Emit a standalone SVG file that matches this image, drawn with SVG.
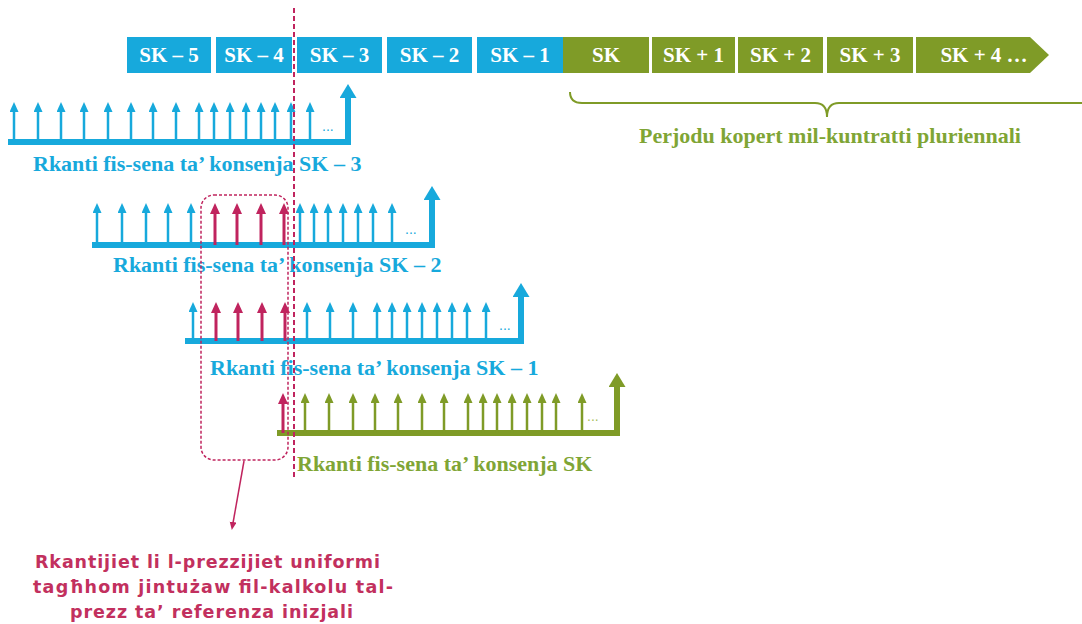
<svg xmlns="http://www.w3.org/2000/svg" width="1082" height="624" viewBox="0 0 1082 624">
<style>
.bx{fill:#17a9dc}
.gx{fill:#7f9b27}
.bt{font-family:"Liberation Serif",serif;font-weight:bold;font-size:21px;fill:#fff;text-anchor:middle}
.lb{font-family:"Liberation Serif",serif;font-weight:bold;font-size:22px;fill:#17a9dc}
.lg{font-family:"Liberation Serif",serif;font-weight:bold;font-size:22px;fill:#7fa535}
.sb{stroke:#17a9dc;stroke-width:2.5}
.sr{stroke:#c0245e;stroke-width:3}
.sg{stroke:#7f9b27;stroke-width:2.5}
.base{fill:none;stroke-width:6;stroke-linejoin:miter}
.dots{font-family:"Liberation Sans",sans-serif;font-size:14px}
.note{font-family:"DejaVu Sans",sans-serif;font-weight:bold;font-size:17.5px;fill:#c2305e}
</style>
<defs>
<marker id="hb" markerUnits="userSpaceOnUse" markerWidth="11" markerHeight="10" refX="1" refY="4.5" orient="auto"><path d="M0,0 L10,4.5 L0,9 z" fill="#17a9dc"/></marker>
<marker id="hr" markerUnits="userSpaceOnUse" markerWidth="12" markerHeight="11" refX="1" refY="5" orient="auto"><path d="M0,0 L11,5 L0,10 z" fill="#c0245e"/></marker>
<marker id="hg" markerUnits="userSpaceOnUse" markerWidth="11" markerHeight="10" refX="1" refY="4.5" orient="auto"><path d="M0,0 L10,4.5 L0,9 z" fill="#7f9b27"/></marker>
<marker id="Hb" markerUnits="userSpaceOnUse" markerWidth="16" markerHeight="18" refX="1" refY="8.5" orient="auto"><path d="M0,0 L14,8.5 L0,17 z" fill="#17a9dc"/></marker>
<marker id="Hg" markerUnits="userSpaceOnUse" markerWidth="16" markerHeight="18" refX="1" refY="8.5" orient="auto"><path d="M0,0 L14,8.5 L0,17 z" fill="#7f9b27"/></marker>
<marker id="hp" markerUnits="userSpaceOnUse" markerWidth="9" markerHeight="8" refX="1" refY="3.5" orient="auto"><path d="M0,0 L8,3.5 L0,7 z" fill="#c0245e"/></marker>
</defs>
<rect width="1082" height="624" fill="#fff"/>

<g id="timeline">
<g id="sk-5"><rect class="bx" x="127" y="37" width="84" height="36"/><text class="bt" x="169" y="62">SK – 5</text></g>
<g id="sk-4"><rect class="bx" x="216" y="37" width="76" height="36"/><text class="bt" x="254" y="62">SK – 4</text></g>
<g id="sk-3"><rect class="bx" x="297" y="37" width="85" height="36"/><text class="bt" x="339.5" y="62">SK – 3</text></g>
<g id="sk-2"><rect class="bx" x="387" y="37" width="85" height="36"/><text class="bt" x="429.5" y="62">SK – 2</text></g>
<g id="sk-1"><rect class="bx" x="477" y="37" width="86" height="36"/><text class="bt" x="520" y="62">SK – 1</text></g>
<g id="sk"><rect class="gx" x="563" y="37" width="86" height="36"/><text class="bt" x="606" y="62">SK</text></g>
<g id="sk+1"><rect class="gx" x="652" y="37" width="83" height="36"/><text class="bt" x="693.5" y="62">SK + 1</text></g>
<g id="sk+2"><rect class="gx" x="738" y="37" width="85" height="36"/><text class="bt" x="780.5" y="62">SK + 2</text></g>
<g id="sk+3"><rect class="gx" x="827" y="37" width="86" height="36"/><text class="bt" x="870" y="62">SK + 3</text></g>
<g id="sk+4"><path class="gx" d="M916,37 H1030 L1049,55 L1030,73 H916 Z"/><text class="bt" x="984" y="62">SK + 4 …</text></g>
</g>

<g id="brace">
<path d="M570,92 Q570,103 582,103 H815 Q827,103 827,117 Q827,103 839,103 H1082" fill="none" stroke="#7f9b27" stroke-width="2"/>
<text class="lg" x="830" y="143" text-anchor="middle">Perjodu kopert mil-kuntratti pluriennali</text>
</g>

<g id="row-sk-3">
<path class="base" stroke="#17a9dc" d="M8,142 H348 V97" marker-end="url(#Hb)"/>
<g class="sb" marker-end="url(#hb)">
<line x1="14" y1="142" x2="14" y2="111"/><line x1="38" y1="142" x2="38" y2="111"/><line x1="61" y1="142" x2="61" y2="111"/><line x1="84" y1="142" x2="84" y2="111"/><line x1="108" y1="142" x2="108" y2="111"/><line x1="131" y1="142" x2="131" y2="111"/><line x1="153" y1="142" x2="153" y2="111"/><line x1="176" y1="142" x2="176" y2="111"/><line x1="199" y1="142" x2="199" y2="111"/><line x1="214" y1="142" x2="214" y2="111"/><line x1="230" y1="142" x2="230" y2="111"/><line x1="246" y1="142" x2="246" y2="111"/><line x1="261" y1="142" x2="261" y2="111"/><line x1="275" y1="142" x2="275" y2="111"/><line x1="291" y1="142" x2="291" y2="111"/><line x1="310" y1="142" x2="310" y2="111"/>
</g>
<text class="dots" x="322" y="131" fill="#17a9dc">...</text>
<text class="lb" x="33" y="171">Rkanti fis-sena ta’ konsenja SK – 3</text>
</g>

<g id="row-sk-2">
<path class="base" stroke="#17a9dc" d="M92,245 H432 V199" marker-end="url(#Hb)"/>
<g class="sb" marker-end="url(#hb)">
<line x1="97" y1="245" x2="97" y2="212"/><line x1="122" y1="245" x2="122" y2="212"/><line x1="146" y1="245" x2="146" y2="212"/><line x1="168" y1="245" x2="168" y2="212"/><line x1="191" y1="245" x2="191" y2="212"/><line x1="300" y1="245" x2="300" y2="212"/><line x1="314" y1="245" x2="314" y2="212"/><line x1="328" y1="245" x2="328" y2="212"/><line x1="343" y1="245" x2="343" y2="212"/><line x1="358" y1="245" x2="358" y2="212"/><line x1="373" y1="245" x2="373" y2="212"/><line x1="392" y1="245" x2="392" y2="212"/>
</g>
<g class="sr" marker-end="url(#hr)">
<line x1="215" y1="245" x2="215" y2="213"/><line x1="237" y1="245" x2="237" y2="213"/><line x1="261" y1="245" x2="261" y2="213"/><line x1="284" y1="245" x2="284" y2="213"/>
</g>
<text class="dots" x="405" y="234" fill="#17a9dc">...</text>
<text class="lb" x="113" y="272">Rkanti fis-sena ta’ konsenja SK – 2</text>
</g>

<g id="row-sk-1">
<path class="base" stroke="#17a9dc" d="M185,341 H521 V296" marker-end="url(#Hb)"/>
<g class="sb" marker-end="url(#hb)">
<line x1="193" y1="341" x2="193" y2="311"/><line x1="307" y1="341" x2="307" y2="311"/><line x1="330" y1="341" x2="330" y2="311"/><line x1="353" y1="341" x2="353" y2="311"/><line x1="377" y1="341" x2="377" y2="311"/><line x1="392" y1="341" x2="392" y2="311"/><line x1="407" y1="341" x2="407" y2="311"/><line x1="422" y1="341" x2="422" y2="311"/><line x1="437" y1="341" x2="437" y2="311"/><line x1="452" y1="341" x2="452" y2="311"/><line x1="467" y1="341" x2="467" y2="311"/><line x1="486" y1="341" x2="486" y2="311"/>
</g>
<g class="sr" marker-end="url(#hr)">
<line x1="216" y1="341" x2="216" y2="312"/><line x1="238" y1="341" x2="238" y2="312"/><line x1="262" y1="341" x2="262" y2="312"/><line x1="285" y1="341" x2="285" y2="312"/>
</g>
<text class="dots" x="499" y="330" fill="#17a9dc">...</text>
<text class="lb" x="210" y="375">Rkanti fis-sena ta’ konsenja SK – 1</text>
</g>

<g id="row-sk">
<path class="base" stroke="#7f9b27" d="M277,433 H617 V386" marker-end="url(#Hg)"/>
<g class="sg" marker-end="url(#hg)">
<line x1="305" y1="433" x2="305" y2="402"/><line x1="329" y1="433" x2="329" y2="402"/><line x1="353" y1="433" x2="353" y2="402"/><line x1="375" y1="433" x2="375" y2="402"/><line x1="398" y1="433" x2="398" y2="402"/><line x1="422" y1="433" x2="422" y2="402"/><line x1="444" y1="433" x2="444" y2="402"/><line x1="468" y1="433" x2="468" y2="402"/><line x1="483" y1="433" x2="483" y2="402"/><line x1="497" y1="433" x2="497" y2="402"/><line x1="512" y1="433" x2="512" y2="402"/><line x1="527" y1="433" x2="527" y2="402"/><line x1="542" y1="433" x2="542" y2="402"/><line x1="556" y1="433" x2="556" y2="402"/><line x1="582" y1="433" x2="582" y2="402"/>
</g>
<g class="sr" marker-end="url(#hr)">
<line x1="283" y1="433" x2="283" y2="403"/>
</g>
<text class="dots" x="587" y="421" fill="#a8c060">...</text>
<text class="lg" x="297" y="471">Rkanti fis-sena ta’ konsenja SK</text>
</g>

<g id="selection">
<rect x="201" y="195" width="87" height="265" rx="13" fill="none" stroke="#c0245e" stroke-width="1.5" stroke-dasharray="3 2"/>
</g>

<g id="connectors">
<line x1="294" y1="8" x2="294" y2="480" stroke="#c0245e" stroke-width="2" stroke-dasharray="5 3"/>
<line x1="244" y1="461" x2="233" y2="523" stroke="#c0245e" stroke-width="1.5" marker-end="url(#hp)"/>
</g>

<g id="note">
<text class="note" x="35" y="568" textLength="345">Rkantijiet li l-prezzijiet uniformi</text>
<text class="note" x="33" y="593" textLength="360">tagħhom jintużaw fil-kalkolu tal-</text>
<text class="note" x="70" y="618" textLength="283">prezz ta’ referenza inizjali</text>
</g>
</svg>
